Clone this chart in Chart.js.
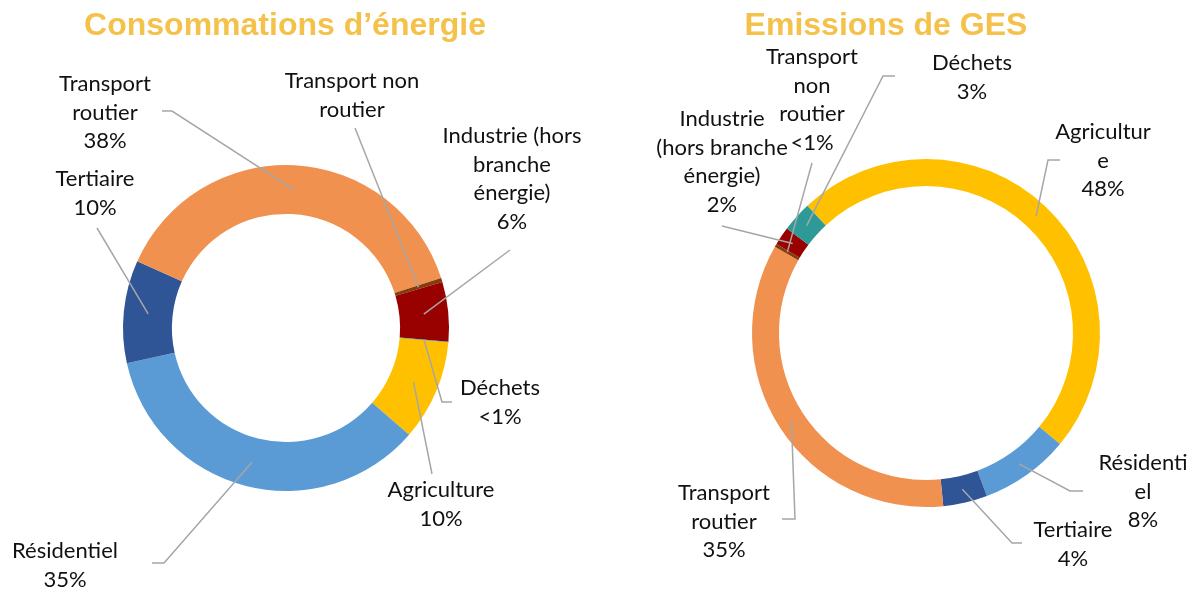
<!DOCTYPE html>
<html>
<head>
<meta charset="utf-8">
<script src="https://cdn.jsdelivr.net/npm/chart.js@4"></script>
<style>
  html, body { margin: 0; padding: 0; background: #fff; }
  #wrap { position: relative; width: 1192px; height: 592px; overflow: hidden; }
  canvas { position: absolute; top: 0; }
  #energy { left: 0; }
  #ghg { left: 600px; }
</style>
</head>
<body>
<div id="wrap">
  <canvas id="energy" width="600" height="592"></canvas>
  <canvas id="ghg" width="592" height="592"></canvas>
</div>
<script>
// sectors, same order in both rings
const categories = ["Agriculture", "Résidentiel", "Tertiaire", "Transport routier",
                    "Transport non routier", "Industrie (hors branche énergie)", "Déchets"];

// shares in %
const energyShares = [10, 35.2, 10.2, 38.4, 0.4, 5.9, 0.05];
const ghgShares    = [47.9, 8.3, 4.1, 34.8, 0.3, 1.7, 2.8];

// data label texts, one array of lines per sector
const energyLabels = [
  ["Agriculture", "10%"],
  ["Résidentiel", "35%"],
  ["Tertiaire", "10%"],
  ["Transport", "routier", "38%"],
  ["Transport non", "routier"],
  ["Industrie (hors", "branche", "énergie)", "6%"],
  ["Déchets", "<1%"],
];
const ghgLabels = [
  ["Agricultur", "e", "48%"],
  ["Résidenti", "el", "8%"],
  ["Tertiaire", "4%"],
  ["Transport", "routier", "35%"],
  ["Transport", "non", "routier", "<1%"],
  ["Industrie", "(hors branche", "énergie)", "2%"],
  ["Déchets", "3%"],
];

// colours
const sectorColors = ["#FFC000", "#5B9BD5", "#2F5597", "#F0914F", "#843C0C", "#990000", "#2E9A98"];

// label layout (page px): [centre x, first baseline] and leader bend points
const energyLabelPos = [[441, 497], [65, 558], [95, 186], [105, 91], [352, 88], [512, 143], [500, 395]];
const energyLeaders = [
  [[432, 474]],
  [[152, 563], [164, 563]],
  [[97, 228]],
  [[162, 111], [172, 111]],
  [[355, 128]],
  [[510, 250]],
  [[452, 402], [442, 402]],
];
const ghgLabelPos = [[1103, 139], [1143, 470], [1073, 537], [724, 500], [812, 64], [722, 126], [972, 70]];
const ghgLeaders = [
  [[1060, 160], [1048, 160]],
  [[1083, 491], [1070, 491]],
  [[1022, 543], [1012, 543]],
  [[782, 519], [795, 519]],
  [[812, 163]],
  [[722, 226]],
  [[895, 76], [883, 76]],
];

const leaderLabels = {
  id: "leaderLabels",
  afterDatasetsDraw(chart, args, opts) {
    const ctx = chart.ctx;
    const arcs = chart.getDatasetMeta(0).data;
    ctx.save();
    ctx.translate(-opts.originX, 0);
    // leader lines
    ctx.strokeStyle = "#A6A6A6";
    ctx.lineWidth = 1.5;
    arcs.forEach((arc, i) => {
      const p = arc.tooltipPosition();
      const pts = opts.leaders[i];
      ctx.beginPath();
      ctx.moveTo(pts[0][0], pts[0][1]);
      pts.slice(1).forEach(q => ctx.lineTo(q[0], q[1]));
      ctx.lineTo(p.x + opts.originX, p.y);
      ctx.stroke();
    });
    // labels
    ctx.fillStyle = "#111";
    ctx.font = '22px Lato, "Open Sans", sans-serif';
    ctx.textAlign = "center";
    ctx.textBaseline = "alphabetic";
    opts.labels.forEach((lines, i) => {
      const [x, y] = opts.positions[i];
      lines.forEach((t, k) => ctx.fillText(t, x, y + k * 28.5));
    });
    // heading
    ctx.fillStyle = "#F4C24B";
    ctx.font = 'bold 32px "Liberation Sans", Arial, sans-serif';
    ctx.fillText(opts.title, opts.titleX, 35);
    ctx.restore();
  }
};

function ring(id, shares, cfg) {
  return new Chart(document.getElementById(id), {
    type: "doughnut",
    data: {
      labels: categories,
      datasets: [{ data: shares, backgroundColor: sectorColors, borderWidth: 0 }]
    },
    options: {
      responsive: false,
      animation: false,
      rotation: cfg.rotation,
      radius: cfg.radius,
      cutout: cfg.cutout,
      layout: { padding: cfg.padding },
      plugins: {
        legend: { display: false },
        tooltip: { enabled: false },
        leaderLabels: {
          originX: cfg.originX,
          title: cfg.title,
          titleX: cfg.titleX,
          labels: cfg.labels,
          positions: cfg.positions,
          leaders: cfg.leaders
        }
      }
    },
    plugins: [leaderLabels]
  });
}

ring("energy", energyShares, {
  title: "Consommations d’énergie", titleX: 285, originX: 0,
  rotation: 95, radius: 163, cutout: "70%",
  padding: { top: 64, bottom: 0, left: 0, right: 28 },
  labels: energyLabels, positions: energyLabelPos, leaders: energyLeaders
});

ring("ghg", ghgShares, {
  title: "Emissions de GES", titleX: 886, originX: 600,
  rotation: 317, radius: 174, cutout: "84.5%",
  padding: { top: 74, bottom: 0, left: 60, right: 0 },
  labels: ghgLabels, positions: ghgLabelPos, leaders: ghgLeaders
});
</script>
</body>
</html>
